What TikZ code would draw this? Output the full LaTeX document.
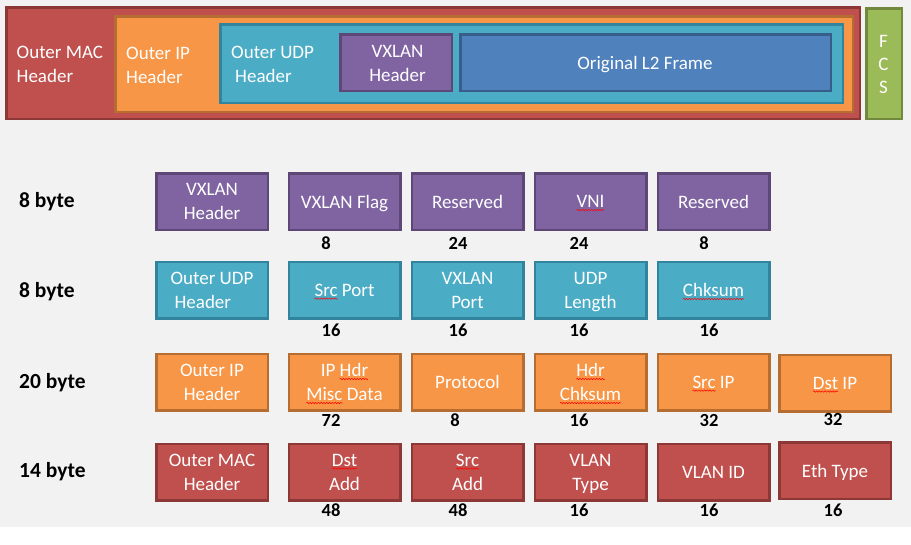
\documentclass[tikz,border=0pt]{standalone}
\usepackage{fontspec}
\setmainfont{Carlito}
\usetikzlibrary{decorations.pathmorphing}
\newcommand\sqq[1]{\tikz[baseline=(w.base)]{\node[rectangle,draw=none,fill=none,inner sep=0pt,outer sep=0pt,minimum width=0pt,minimum height=0pt,anchor=base,text=white](w) at (0,0){#1};\draw[overlay,draw=red,line width=0.5pt,decorate,decoration={snake,amplitude=0.7pt,segment length=2.8pt}] ([yshift=-2.5pt]w.base west) -- ([yshift=-2.5pt]w.base east);}}
\definecolor{bgc}{HTML}{F2F2F2}
\definecolor{redf}{HTML}{C0504D}\definecolor{redd}{HTML}{8C3836}
\definecolor{orf}{HTML}{F79646}\definecolor{ord}{HTML}{B66D31}
\definecolor{tlf}{HTML}{4BACC6}\definecolor{tld}{HTML}{31849B}
\definecolor{puf}{HTML}{8064A2}\definecolor{pud}{HTML}{5C4776}
\definecolor{blf}{HTML}{4F81BD}\definecolor{bld}{HTML}{385D8A}
\definecolor{grf}{HTML}{9BBB59}\definecolor{grd}{HTML}{71893F}
\tikzset{
  frame/.style={rectangle, line width=2.5pt, inner sep=0pt},
  wtext/.style={text=white, font=\fontsize{19}{24}\selectfont, inner sep=0pt},
  box/.style={rectangle, line width=2.5pt, minimum width=111.5pt, minimum height=56.5pt,
    inner sep=0pt, text=white, font=\fontsize{19}{24}\selectfont, align=center},
  pu/.style={box, fill=puf, draw=pud},
  tl/.style={box, fill=tlf, draw=tld},
  or/.style={box, fill=orf, draw=ord},
  rd/.style={box, fill=redf, draw=redd},
  num/.style={font=\bfseries\fontsize{18.5}{20}\selectfont, inner sep=0pt, anchor=base},
  lab/.style={font=\bfseries\fontsize{21.5}{24}\selectfont, inner sep=0pt, anchor=base west},
}
\begin{document}
\begin{tikzpicture}[x=1pt,y=-1pt]
\useasboundingbox (0,0) rectangle (911,544);
\fill[bgc] (0,0) rectangle (911,527);
% top encapsulation
\node[frame, fill=redf, draw=redd, minimum width=853.5pt, minimum height=111.5pt] (mac) at (433,63) {};
\node[frame, fill=orf, draw=ord, minimum width=737.5pt, minimum height=95.5pt] (ip) at (484,64) {};
\node[frame, fill=tlf, draw=tld, minimum width=622.5pt, minimum height=78.5pt] (udp) at (531.5,63.5) {};
\node[frame, fill=puf, draw=pud, minimum width=111.5pt, minimum height=56.5pt] (vx) at (396,62.5) {};
\node[frame, fill=blf, draw=bld, minimum width=370.5pt, minimum height=56.5pt] (l2) at (645.5,62.5) {};
\node[frame, fill=grf, draw=grd, minimum width=35.5pt, minimum height=110.5pt] (fcs) at (884,63.5) {};
\node[wtext, anchor=west, align=left] (tmac) at (16.5,64.2) {Outer MAC\\Header};
\node[wtext, anchor=west, align=left] (tip) at (126,65.2) {Outer IP\\Header};
\node[wtext, anchor=west, align=left] (tudp) at (231,64.2) {Outer UDP\\\hspace*{4pt}Header};
\node[wtext, align=center] (tvx) at (397.5,63.2) {VXLAN\\Header};
\node[wtext] (tl2) at (645,64.2) {Original L2 Frame};
\node[wtext, align=center, font=\fontsize{19}{23.3}\selectfont] (tfcs) at (883.5,64.6) {F\\C\\S};
% row labels
\node[lab] (b1) at (19,207) {8 byte};
\node[lab] (b2) at (19,297) {8 byte};
\node[lab] (b3) at (19,388) {20 byte};
\node[lab] (b4) at (19,477) {14 byte};
% row 1
\node[pu] (r1c1) at (212,201.5) {VXLAN\\Header};
\node[pu, text depth=0pt] (r1c2) at (344.5,201.5) {VXLAN Flag};
\node[pu] (r1c3) at (467.5,201.5) {Reserved};
\node[pu] (r1c4) at (590.5,201.5) {\sqq{VNI}};
\node[pu] (r1c5) at (713.5,201.5) {Reserved};
\node[num] (n12) at (326,249.3) {8};
\node[num] (n13) at (458,249.3) {24};
\node[num] (n14) at (579,249.3) {24};
\node[num] (n15) at (704,249.3) {8};
% row 2
\node[tl, align=left] (r2c1) at (212,290) {Outer UDP\\\hspace*{4pt}Header};
\node[tl] (r2c2) at (344.5,290) {\sqq{Src} Port};
\node[tl] (r2c3) at (467.5,290) {VXLAN\\Port};
\node[tl] (r2c4) at (590.5,290) {UDP\\\smash{Length}};
\node[tl] (r2c5) at (713.5,290) {\sqq{Chksum}};
\node[num] (n22) at (331,336.7) {16};
\node[num] (n23) at (458,336.7) {16};
\node[num] (n24) at (579,336.7) {16};
\node[num] (n25) at (709,336.7) {16};
% row 3
\node[or] (r3c1) at (212,382) {Outer IP\\Header};
\node[or] (r3c2) at (344.5,382) {IP \sqq{Hdr}\\\sqq{Misc} Data};
\node[or] (r3c3) at (467.5,382) {Protocol};
\node[or] (r3c4) at (590.5,382) {\sqq{Hdr}\\\sqq{Chksum}};
\node[or] (r3c5) at (713.5,382) {\sqq{Src} IP};
\node[or] (r3c6) at (835,383) {\sqq{Dst} IP};
\node[num] (n32) at (331,426) {72};
\node[num] (n33) at (455,426) {8};
\node[num] (n34) at (579,426) {16};
\node[num] (n35) at (709,426) {32};
\node[num] (n36) at (833,425) {32};
% row 4
\node[rd] (r4c1) at (212,472) {Outer MAC\\Header};
\node[rd] (r4c2) at (344.5,472) {\sqq{Dst}\\Add};
\node[rd] (r4c3) at (467.5,472) {\sqq{Src}\\Add};
\node[rd] (r4c4) at (590.5,472) {VLAN\\\smash{Type}};
\node[rd] (r4c5) at (713.5,472) {VLAN ID};
\node[rd, text depth=0pt] (r4c6) at (835,470.5) {Eth Type};
\node[num] (n42) at (331,516.7) {48};
\node[num] (n43) at (458,516.7) {48};
\node[num] (n44) at (579,516.7) {16};
\node[num] (n45) at (709,516.7) {16};
\node[num] (n46) at (833,516.7) {16};
\end{tikzpicture}
\end{document}
